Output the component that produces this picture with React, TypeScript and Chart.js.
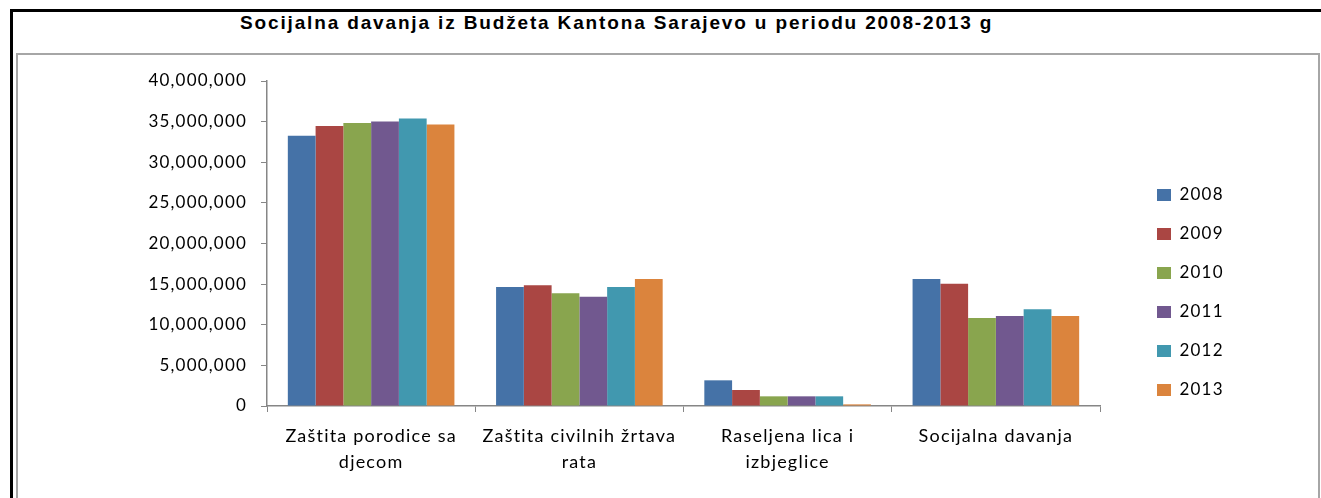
import React, { useEffect, useRef } from "react";
import { Chart, registerables } from "chart.js";

Chart.register(...registerables);

const titleText = "Socijalna davanja iz Budžeta Kantona Sarajevo u periodu 2008-2013 g";

const categories: (string | string[])[] = [
  ["Zaštita porodice sa", "djecom"],
  ["Zaštita civilnih žrtava", "rata"],
  ["Raseljena lica i", "izbjeglice"],
  "Socijalna davanja",
];

const years = ["2008", "2009", "2010", "2011", "2012", "2013"];

const values2008 = [33270000, 14650000, 3160000, 15630000];
const values2009 = [34460000, 14850000, 1970000, 15060000];
const values2010 = [34830000, 13870000, 1190000, 10830000];
const values2011 = [35030000, 13460000, 1190000, 11080000];
const values2012 = [35400000, 14650000, 1190000, 11900000];
const values2013 = [34660000, 15630000, 200000, 11080000];

const seriesValues = [values2008, values2009, values2010, values2011, values2012, values2013];
const seriesColors = ["#4572A7", "#AA4643", "#89A54E", "#71588F", "#4198AF", "#DB843D"];

const yMin = 0;
const yMax = 40000000;
const yStep = 5000000;

const W = 1321;
const H = 498;
const FONT = "Lato, 'Open Sans', sans-serif";

export default function App() {
  const ref = useRef<HTMLCanvasElement | null>(null);

  useEffect(() => {
    if (!ref.current) return;

    const spacingPlugin = {
      id: "spacingPlugin",
      beforeLayout(c: any) {
        c.ctx.letterSpacing = "1.2px";
      },
      beforeDraw(c: any) {
        c.ctx.letterSpacing = "1.2px";
      },
    };

    const legendPosPlugin = {
      id: "legendPosPlugin",
      afterLayout(c: any) {
        const lg = c.legend;
        if (lg) {
          lg.left = 1135;
          lg.right = 1300;
          lg.top = 164.5;
          lg.bottom = H;
        }
      },
    };

    const chart = new Chart(ref.current, {
      type: "bar",
      data: {
        labels: categories as any,
        datasets: years.map((y, i) => ({
          label: y,
          data: seriesValues[i],
          backgroundColor: seriesColors[i],
          borderWidth: 0,
          categoryPercentage: 0.8,
          barPercentage: 1.0,
        })),
      },
      options: {
        responsive: false,
        animation: false,
        devicePixelRatio: 1,
        layout: { padding: { top: 81, left: 0, right: 220, bottom: 0 } },
        plugins: {
          title: { display: false },
          tooltip: { enabled: false },
          legend: {
            display: true,
            position: "right",
            align: "start",
            maxWidth: 1,
            labels: {
              boxWidth: 14,
              boxHeight: 12,
              padding: 22,
              color: "#000",
              font: { family: FONT, size: 17 },
            },
          },
        },
        scales: {
          x: {
            offset: true,
            afterFit(scale: any) {
              scale.height = 92;
            },
            grid: {
              offset: true,
              drawOnChartArea: false,
              drawTicks: true,
              tickLength: 6,
              color: "#868686",
            },
            border: { color: "#868686", width: 1.5 },
            ticks: {
              color: "#000",
              padding: 12,
              maxRotation: 0,
              autoSkip: false,
              font: { family: FONT, size: 18, lineHeight: 1.4 },
            },
          },
          y: {
            min: yMin,
            max: yMax,
            afterFit(scale: any) {
              scale.width = 267;
            },
            grid: {
              drawOnChartArea: false,
              drawTicks: true,
              tickLength: 6,
              color: "#868686",
            },
            border: { color: "#868686", width: 1.5 },
            ticks: {
              stepSize: yStep,
              color: "#000",
              padding: 14,
              font: { family: FONT, size: 17 },
              callback: (v: any) => Number(v).toLocaleString("en-US"),
            },
          },
        },
      },
      plugins: [spacingPlugin, legendPosPlugin],
    } as any);

    return () => chart.destroy();
  }, []);

  return (
    <div
      style={{
        position: "absolute",
        left: 0,
        top: 0,
        width: W,
        height: H,
        overflow: "hidden",
        background: "#fff",
      }}
    >
      <div
        style={{
          position: "absolute",
          left: 10,
          top: 9,
          width: W + 50,
          height: H + 50,
          borderTop: "3px solid #000",
          borderLeft: "3px solid #000",
          boxSizing: "border-box",
        }}
      />
      <div
        style={{
          position: "absolute",
          left: 16,
          top: 53,
          width: 1320 - 16,
          height: H + 50,
          border: "2px solid #a6a6a6",
          boxSizing: "border-box",
        }}
      />
      <div
        style={{
          position: "absolute",
          left: 240,
          top: 12,
          whiteSpace: "nowrap",
          fontFamily: "'Liberation Sans', Arial, sans-serif",
          fontWeight: "bold",
          fontSize: 19,
          lineHeight: "21px",
          letterSpacing: "1.85px",
          color: "#000",
        }}
      >
        {titleText}
      </div>
      <canvas
        ref={ref}
        width={W}
        height={H}
        style={{ position: "absolute", left: 0, top: 0, width: W, height: H, display: "block" }}
      />
    </div>
  );
}
